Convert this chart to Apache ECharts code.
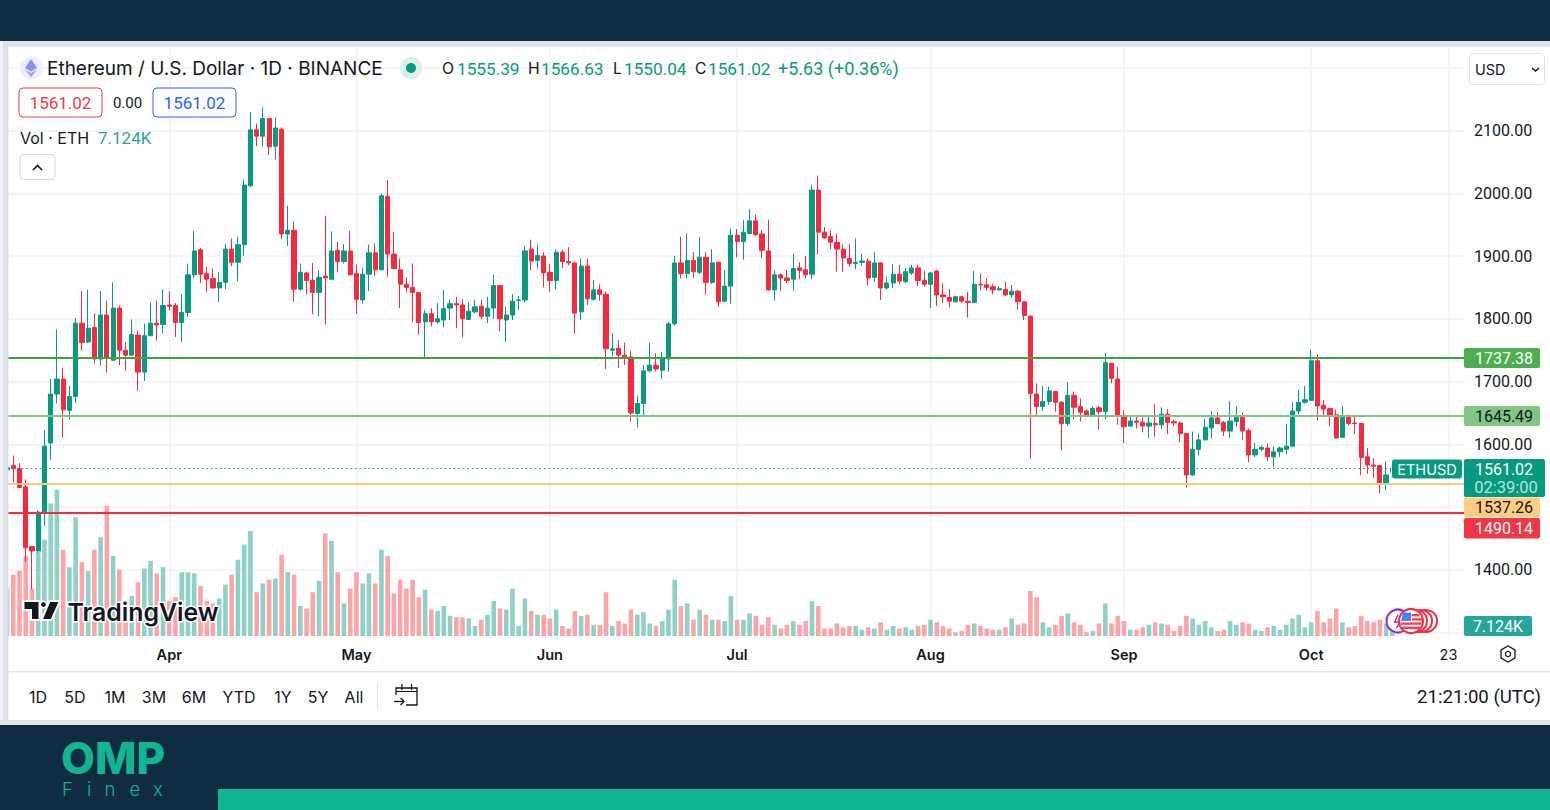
<!DOCTYPE html>
<html>
<head>
<meta charset="utf-8">
<title>ETHUSD</title>
<script src="https://cdn.jsdelivr.net/npm/echarts@6/dist/echarts.min.js"></script>
<style>
html, body { margin: 0; padding: 0; background: #fff; }
#chart { width: 1550px; height: 810px; }
</style>
</head>
<body>
<div id="chart"></div>
<script>
// daily bars, first one is 6 Mar (mostly cut off by the left edge)
var opens = [1559,
  1566,1561,1532,1437,1430,1490,1602,1680,1704,1654,
  1676,1793,1763,1786,1736,1806,1734,1817,1750,1742,
  1774,1715,1773,1793,1791,1822,1821,1794,1810,1870,
  1910,1872,1864,1849,1858,1911,1890,1918,2012,2101,
  2091,2119,2075,2102,1935,1941,1847,1873,1861,1842,
  1868,1863,1909,1891,1908,1872,1830,1871,1905,1878,
  1995,1903,1878,1855,1850,1842,1795,1808,1795,1798,
  1817,1824,1822,1799,1811,1820,1804,1817,1853,1798,
  1806,1829,1830,1911,1893,1900,1874,1861,1906,1891,
  1889,1811,1884,1831,1846,1839,1750,1753,1742,1739,
  1649,1665,1717,1726,1718,1736,1792,1889,1872,1893,
  1874,1898,1858,1890,1828,1852,1933,1923,1936,1956,
  1935,1908,1846,1870,1865,1863,1881,1878,1871,2005,
  1938,1931,1922,1911,1896,1888,1890,1892,1866,1889,
  1849,1857,1871,1859,1873,1881,1861,1855,1876,1838,
  1834,1827,1835,1828,1826,1855,1854,1851,1846,1847,
  1838,1844,1827,1804,1680,1660,1668,1684,1667,1633,
  1678,1660,1653,1645,1658,1652,1729,1704,1646,1629,
  1637,1635,1629,1633,1631,1648,1636,1634,1617,1551,
  1592,1607,1626,1642,1635,1621,1636,1643,1622,1583,
  1592,1594,1580,1588,1592,1597,1653,1667,1670,1733,
  1662,1657,1647,1611,1646,1634,1633,1580,1567,1566,
  1538,1555.39];
var closes = [1563,
  1561,1531,1435,1430,1492,1597,1680,1704,1655,1676,
  1793,1762,1785,1736,1806,1737,1817,1750,1742,1775,
  1715,1773,1793,1790,1821,1820,1794,1810,1870,1908,
  1871,1863,1849,1858,1911,1890,1918,2013,2101,2091,
  2119,2074,2104,1935,1941,1847,1874,1861,1842,1866,
  1865,1908,1891,1908,1870,1831,1871,1905,1878,1996,
  1903,1880,1855,1850,1842,1794,1808,1795,1800,1816,
  1824,1822,1800,1812,1819,1804,1817,1853,1800,1806,
  1828,1830,1908,1892,1901,1873,1861,1906,1891,1889,
  1809,1884,1832,1846,1839,1752,1752,1742,1738,1650,
  1665,1717,1726,1720,1736,1792,1889,1872,1893,1875,
  1898,1858,1889,1827,1852,1933,1923,1938,1956,1934,
  1909,1846,1870,1865,1861,1880,1877,1870,2005,1938,
  1929,1922,1911,1897,1888,1890,1892,1865,1889,1849,
  1857,1871,1860,1875,1881,1861,1855,1873,1838,1835,
  1828,1835,1828,1826,1855,1854,1850,1846,1848,1838,
  1844,1827,1805,1681,1660,1668,1685,1667,1633,1678,
  1659,1651,1645,1657,1652,1730,1705,1645,1628,1637,
  1635,1629,1634,1631,1648,1635,1634,1617,1551,1592,
  1607,1627,1642,1633,1621,1637,1643,1621,1583,1592,
  1595,1580,1588,1594,1597,1653,1667,1671,1733,1661,
  1656,1646,1610,1645,1633,1633,1579,1567,1565,1538,
  1551,1561.02];
var highs = [1566,
  1582,1570,1544,1438,1495,1623,1704,1783,1722,1693,
  1801,1844,1846,1809,1844,1829,1858,1821,1763,1799,
  1781,1792,1826,1829,1847,1844,1825,1839,1888,1940,
  1913,1883,1880,1874,1919,1928,1931,2022,2129,2111,
  2137,2120,2121,2105,1980,1955,1888,1875,1889,1878,
  1964,1939,1923,1919,1940,1886,1881,1918,1920,2000,
  2021,1938,1896,1866,1888,1843,1814,1817,1825,1846,
  1830,1835,1831,1827,1830,1830,1835,1870,1854,1819,
  1839,1836,1916,1926,1918,1906,1887,1911,1910,1914,
  1890,1896,1896,1862,1855,1843,1777,1766,1762,1749,
  1677,1726,1762,1745,1747,1795,1900,1931,1936,1906,
  1930,1906,1911,1891,1878,1944,1943,1957,1975,1966,
  1941,1958,1877,1872,1878,1904,1890,1900,2013,2028,
  1946,1941,1936,1918,1919,1928,1904,1896,1906,1890,
  1867,1887,1886,1881,1886,1886,1876,1875,1878,1856,
  1847,1837,1836,1843,1876,1872,1864,1855,1852,1859,
  1854,1846,1828,1806,1697,1693,1692,1685,1669,1699,
  1684,1673,1656,1660,1661,1745,1730,1723,1654,1645,
  1645,1643,1647,1664,1659,1656,1639,1636,1618,1620,
  1617,1640,1653,1651,1637,1669,1661,1650,1625,1602,
  1598,1601,1596,1596,1633,1667,1686,1693,1751,1743,
  1670,1658,1655,1661,1647,1644,1634,1594,1578,1567,
  1573,1566.63];
var lows = [1555,
  1539,1530,1413,1369,1427,1470,1575,1665,1610,1639,
  1666,1749,1761,1729,1726,1714,1733,1726,1717,1741,
  1685,1701,1772,1765,1777,1813,1771,1763,1803,1865,
  1857,1843,1848,1827,1847,1884,1860,1900,2010,2075,
  2075,2061,2054,1927,1916,1827,1845,1839,1807,1804,
  1791,1862,1875,1888,1869,1808,1824,1844,1868,1877,
  1867,1879,1817,1842,1794,1774,1737,1788,1792,1786,
  1798,1785,1770,1798,1808,1799,1793,1800,1780,1763,
  1798,1814,1826,1877,1880,1850,1843,1847,1881,1885,
  1776,1798,1822,1829,1829,1720,1741,1722,1726,1636,
  1627,1645,1715,1716,1704,1715,1789,1864,1864,1865,
  1871,1838,1855,1819,1827,1824,1898,1894,1935,1932,
  1896,1845,1829,1844,1857,1844,1863,1864,1863,1902,
  1927,1911,1875,1875,1883,1879,1885,1853,1859,1830,
  1846,1849,1855,1857,1870,1852,1851,1817,1820,1825,
  1818,1826,1825,1802,1825,1845,1845,1839,1845,1836,
  1833,1815,1798,1577,1645,1653,1663,1652,1590,1629,
  1640,1636,1643,1644,1624,1640,1697,1631,1602,1628,
  1625,1619,1610,1612,1624,1616,1629,1603,1531,1550,
  1582,1606,1609,1632,1613,1610,1628,1607,1571,1579,
  1589,1573,1564,1580,1584,1596,1648,1665,1669,1638,
  1643,1628,1609,1610,1630,1616,1551,1553,1546,1522,
  1527,1550.04];
// volume in thousands of ETH
var volumes = [38,
  49,52,64,38,67,77,106,117,69,55,
  95,59,52,69,79,104,64,53,28,32,
  43,54,60,50,55,28,31,51,51,50,
  40,28,26,30,41,49,61,73,84,35,
  42,45,46,65,51,49,24,22,35,44,
  82,76,51,26,38,51,42,50,42,69,
  64,34,45,38,45,31,37,21,20,24,
  16,15,15,14,8,13,17,28,22,21,
  38,8,30,20,17,17,14,21,8,6,
  20,16,17,9,9,35,8,12,10,21,
  17,19,10,8,12,21,45,24,26,13,
  21,17,13,13,12,32,13,13,18,16,
  9,15,9,6,9,12,9,12,28,24,
  6,6,10,7,8,8,5,7,6,11,
  5,8,6,7,5,8,9,13,11,8,
  6,3,4,9,10,8,6,5,5,7,
  14,9,10,36,31,11,7,9,16,18,
  11,9,3,4,10,26,10,16,12,5,
  5,7,9,11,10,9,4,8,16,14,
  9,12,7,4,5,12,9,11,10,5,
  4,7,8,5,9,14,17,7,11,20,
  11,14,22,11,7,8,16,12,11,13,
  10,7.124];
var levels = [1737.38, 1645.49, 1537.26, 1490.14];
var lastPrice = 1561.02;
var priceTicks = [2100, 2000, 1900, 1800, 1700, 1600, 1400];
var monthNames = ['Jan','Feb','Mar','Apr','May','Jun','Jul','Aug','Sep','Oct','Nov','Dec'];
var rangeButtons = ['1D','5D','1M','3M','6M','YTD','1Y','5Y','All'];

var GREEN = '#089981', RED = '#f7293f', INK = '#131722', NAVY = '#0f2c42', EDGE = '#e0e3eb';
var FONT = 'Inter', NUM = 'Roboto'; // Roboto has even width digits, like the original
var levelColors = ['#3fa33f', '#7cc67f', '#ffc77a', RED];

// every day from 6 Mar out to the right edge, 234 slots
var categories = [];
for (var d = 0; d < 234; d++) {
  var dt = new Date(Date.UTC(2023, 2, 6 + d));
  categories.push(dt.toISOString().slice(0, 10));
}
function dayLabel(v) {
  var dt = new Date(v + 'T00:00:00Z');
  if (dt.getUTCDate() === 1 && dt.getUTCMonth() > 2) return monthNames[dt.getUTCMonth()];
  if (v === '2023-10-23') return '23';
  return '';
}
function showDay(i, v) { return dayLabel(v) !== ''; }

var candleData = opens.map(function (o, i) { return [o, closes[i], lows[i], highs[i]]; });
var volumeData = volumes.map(function (v, i) {
  return { value: v, itemStyle: { color: closes[i] >= opens[i] ? '#8fd1c6' : '#fba5a8' } };
});

// chrome helpers
function txt(s, x, y, size, fill, opt) {
  opt = opt || {};
  return { type: 'text', z: opt.z || 200, style: {
    text: s, x: x, y: y, fill: fill || INK, align: opt.align || 'left', verticalAlign: 'middle',
    font: (opt.weight || 400) + ' ' + size + 'px ' + (opt.family || FONT),
    stroke: opt.stroke, lineWidth: opt.lw || 0
  } };
}
function num(s, x, y, size, fill, opt) {
  opt = opt || {};
  opt.family = NUM;
  return txt(s, x, y, size, fill, opt);
}
function box(x, y, w, h, fill, stroke, r, z, lw) {
  return { type: 'rect', z: z || 150, shape: { x: x, y: y, width: w, height: h, r: r || 0 },
    style: { fill: fill || 'transparent', stroke: stroke || null, lineWidth: lw || 1 } };
}
function poly(points, fill, stroke, lw, z) {
  return { type: 'polygon', z: z || 210, shape: { points: points }, style: { fill: fill, stroke: stroke || null, lineWidth: lw || 0 } };
}
function pline(points, stroke, lw, z) {
  return { type: 'polyline', z: z || 210, shape: { points: points }, style: { fill: null, stroke: stroke, lineWidth: lw || 1.4 } };
}
function ring(cx, cy, r, fill, stroke, lw, z) {
  return { type: 'circle', z: z || 210, shape: { cx: cx, cy: cy, r: r }, style: { fill: fill, stroke: stroke || null, lineWidth: lw || 0 } };
}

var chrome = [
  // frame around the panel
  box(0, 0, 1550, 41, NAVY),
  box(0, 41, 1550, 6, EDGE),
  box(0, 41, 3, 684, '#f1f2f5'),
  box(3, 41, 5.5, 684, EDGE),
  box(0, 720, 1550, 5, EDGE),
  box(0, 725, 1550, 85, NAVY),
  box(218, 789, 1332, 21, '#10b592', null, 0, 151),
  txt('OMP', 61, 757.8, 44, '#10b592', { weight: 800 }),
  txt('F', 62, 789, 18.5, '#10b592', { weight: 300 }),
  txt('i', 87, 789, 18.5, '#10b592', { weight: 300 }),
  txt('n', 104.5, 789, 18.5, '#10b592', { weight: 300 }),
  txt('e', 129.5, 789, 18.5, '#10b592', { weight: 300 }),
  txt('x', 153, 789, 18.5, '#10b592', { weight: 300 }),

  // header
  ring(31, 68, 11.5, '#eef0f9'),
  poly([[31, 59], [37, 68], [31, 71.5], [25, 68]], '#7f95ef'),
  poly([[31, 73], [37, 69.5], [31, 77.5], [25, 69.5]], '#b49df0'),
  txt('Ethereum / U.S. Dollar · 1D · BINANCE', 47, 68.5, 19, INK),
  ring(411, 68, 11, '#d9f0eb'),
  ring(411, 68, 5, GREEN),
  txt('O', 442, 68.5, 15.7, INK), num('1555.39', 457, 68.5, 17.2, GREEN),
  txt('H', 528, 68.5, 15.7, INK), num('1566.63', 541, 68.5, 17.2, GREEN),
  txt('L', 613, 68.5, 15.7, INK), num('1550.04', 624, 68.5, 17.2, GREEN),
  txt('C', 695, 68.5, 15.7, INK), num('1561.02', 708, 68.5, 17.2, GREEN),
  num('+5.63 (+0.36%)', 778, 68.5, 18, GREEN),
  box(19, 88, 83, 29, '#fff', '#f23645', 4, 190),
  num('1561.02', 60.5, 103, 17, '#f23645', { align: 'center' }),
  num('0.00', 127.5, 102.5, 15, INK, { align: 'center' }),
  box(153, 88, 83, 29, '#fff', '#2962ff', 4, 190),
  num('1561.02', 194.5, 103, 17, '#2962ff', { align: 'center' }),
  txt('Vol · ETH', 20, 137.5, 16, INK),
  num('7.124K', 98, 137.5, 17, '#26a69a'),
  box(20, 154.5, 35, 25, '#fff', '#d1d4dc', 4, 190),
  pline([[33, 170], [37.5, 165.5], [42, 170]], INK, 1.6),
  box(1469.5, 53.5, 75, 31, '#fff', EDGE, 3, 190),
  txt('USD', 1475, 69.5, 14.5, INK),
  pline([[1532, 68], [1535.5, 71], [1539, 68]], INK, 1.4),

  // tradingview mark
  poly([[23.5, 601], [39.5, 601], [39.5, 620], [31, 620], [31, 610], [23.5, 610]], INK, '#fff', 2, 205),
  ring(43.5, 604.5, 3.2, INK, '#fff', 1.5, 205),
  poly([[49.5, 601], [60, 601], [51.5, 620], [41.5, 620]], INK, '#fff', 2, 205),
  txt('TradingView', 67.5, 611.5, 24.8, INK, { weight: 600, stroke: '#fff', lw: 3, z: 205 }),

  // event badges at the end of the volume pane
  ring(1398, 621, 11.5, '#fff', '#9c27b0', 2),
  pline([[1398, 615], [1394.5, 622], [1400, 622], [1396.5, 628]], '#9c27b0', 1.4, 211),
  ring(1426, 621, 11, '#fff', RED, 2, 212),
  ring(1421, 621, 11, '#fff', RED, 2, 213),
  ring(1416, 621, 11, '#fff', RED, 2, 214),
  ring(1411, 621, 12, '#fff', RED, 2, 215),
  poly([[1403, 612.5], [1411, 612.5], [1411, 621], [1401, 621]], '#3d8bf0', null, 0, 216),
  box(1411.5, 614, 8, 2.4, '#f0424f', null, 0, 216),
  box(1412, 618.2, 10, 2.4, '#f0424f', null, 0, 216),
  box(1400.5, 622.4, 21, 2.4, '#f0424f', null, 0, 216),
  box(1402, 626.6, 18, 2.4, '#f0424f', null, 0, 216),

  // price tags on the right
  box(1391.5, 459, 71, 20, GREEN, '#fff', 3, 220),
  txt('ETHUSD', 1427, 469.5, 14.5, '#fff', { align: 'center', z: 221 }),
  box(1464, 348, 76, 20, '#4caf50', null, 2, 220),
  num(levels[0].toFixed(2), 1504, 358.5, 16, '#fff', { align: 'center', z: 221 }),
  box(1464, 406, 76, 20, '#81c784', null, 2, 220),
  num(levels[1].toFixed(2), 1504, 416.5, 16, INK, { align: 'center', z: 221 }),
  box(1464, 459, 81, 38, GREEN, null, 2, 220),
  num(lastPrice.toFixed(2), 1504, 469.5, 16, '#fff', { align: 'center', z: 221 }),
  num('02:39:00', 1506, 487, 16.5, '#b6e3da', { align: 'center', z: 221 }),
  box(1464, 497.5, 76, 19.5, '#ffcc80', null, 2, 220),
  num(levels[2].toFixed(2), 1504, 507.5, 16, INK, { align: 'center', z: 221 }),
  box(1464, 518, 76, 20.5, '#f23645', null, 2, 220),
  num(levels[3].toFixed(2), 1504, 528.5, 16, '#fff', { align: 'center', z: 221 }),
  box(1464, 616, 68, 20, '#26a69a', null, 2, 220),
  num('7.124K', 1498, 626.5, 16, '#fff', { align: 'center', z: 221 }),

  // bottom toolbar
  box(8.5, 671, 1541.5, 1.5, EDGE),
  poly([[1508, 646], [1515, 650], [1515, 658], [1508, 662], [1501, 658], [1501, 650]], 'transparent', INK, 1.3),
  ring(1508, 654, 2.6, 'transparent', INK, 1.3),
  box(377, 683, 1, 26, EDGE),
  pline([[396, 695], [396, 688], [417, 688], [417, 705], [406, 705]], INK, 1.3),
  pline([[396, 691.5], [417, 691.5]], INK, 1.1),
  pline([[402, 684], [402, 690]], INK, 1.3),
  pline([[411.5, 684], [411.5, 690]], INK, 1.3),
  pline([[394, 701.5], [404, 701.5]], INK, 1.3),
  pline([[400.5, 698], [404, 701.5], [400.5, 705]], INK, 1.3),
  num('21:21:00 (UTC)', 1541, 696.5, 18.6, INK, { align: 'right' })
];
var rangeX = [38, 75, 115, 154, 194, 239, 283, 318, 354];
rangeButtons.forEach(function (b, i) {
  chrome.push(txt(b, rangeX[i], 696.5, 16, INK, { align: 'center' }));
});

var markData = levels.map(function (v, i) {
  return { yAxis: v, lineStyle: { color: levelColors[i], width: 2.2, type: 'solid' } };
});
markData.push({ yAxis: lastPrice, lineStyle: { color: GREEN, width: 1, type: [1.5, 3] } });

var myChart = echarts.init(document.getElementById('chart'), null, { renderer: 'svg' });
myChart.setOption({
  animation: false,
  backgroundColor: '#fff',
  textStyle: { fontFamily: FONT },
  grid: [
    // price pane: top edge is 2200, bottom edge is 1300
    { left: 3.9, width: 1460.2, top: 67.75, height: 564.75 },
    // volume pane also carries the month lines, it runs the whole height
    { left: 3.9, width: 1460.2, top: 48, height: 588 }
  ],
  xAxis: [
    { type: 'category', gridIndex: 0, data: categories, show: false },
    {
      type: 'category', gridIndex: 1, data: categories,
      axisLine: { show: false }, axisTick: { show: false },
      splitLine: { show: true, interval: showDay, alignWithLabel: true, lineStyle: { color: '#f1f2f4', width: 1.5 } },
      axisLabel: {
        interval: showDay, margin: 11, hideOverlap: false,
        formatter: function (v) {
          var s = dayLabel(v);
          return s === '23' ? '{day|23}' : '{month|' + s + '}';
        },
        rich: {
          month: { fontFamily: FONT, fontSize: 14.5, fontWeight: 600, color: INK },
          day: { fontFamily: FONT, fontSize: 14.5, color: INK }
        }
      }
    }
  ],
  yAxis: [
    {
      type: 'value', gridIndex: 0, position: 'right', min: 1300, max: 2200, interval: 100,
      axisLine: { show: false }, axisTick: { show: false },
      splitLine: { lineStyle: { color: '#f1f2f4', width: 1.5 } },
      axisLabel: {
        margin: 10, padding: [2, 0, 0, 0], fontFamily: NUM, fontSize: 16, color: INK,
        formatter: function (v) { return priceTicks.indexOf(v) >= 0 ? v.toFixed(2) : ''; }
      }
    },
    { type: 'value', gridIndex: 1, min: 0, max: 470, show: false }
  ],
  series: [
    {
      name: 'Vol', type: 'bar', xAxisIndex: 1, yAxisIndex: 1, z: 1,
      barWidth: 4.6, data: volumeData
    },
    {
      name: 'ETHUSD', type: 'candlestick', xAxisIndex: 0, yAxisIndex: 0, z: 3,
      barWidth: 4.7, data: candleData,
      itemStyle: { color: GREEN, color0: RED, borderColor: GREEN, borderColor0: RED, borderWidth: 1 },
      markLine: { silent: true, symbol: 'none', label: { show: false }, animation: false, data: markData }
    }
  ],
  graphic: { elements: chrome }
});
</script>
</body>
</html>
